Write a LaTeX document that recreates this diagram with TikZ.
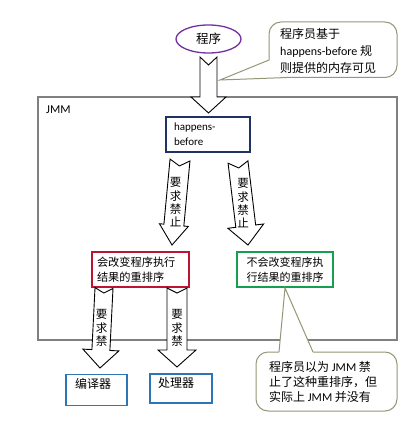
\documentclass[tikz,border=0pt]{standalone}
\usepackage{fontspec}
\setmainfont{Carlito}
\newfontfamily\cjk{Noto Sans CJK SC}
\usetikzlibrary{calc,shapes.geometric}
\definecolor{cpurple}{RGB}{112,48,160}
\definecolor{cnavy}{RGB}{31,50,100}
\definecolor{cred}{RGB}{190,20,50}
\definecolor{cgreen}{RGB}{20,160,80}
\definecolor{cblue}{RGB}{46,117,182}
\definecolor{cgray}{RGB}{128,128,128}
\definecolor{ccall}{RGB}{150,150,120}
\newcommand{\myblockarrow}[7]{%
  \coordinate (#1h) at ($(#3)!#6!(#2)$);
  \draw[blockarr] ($(#2)!#4!90:(#3)$) -- ($(#2)!#7!(#3)$) -- ($(#2)!#4!-90:(#3)$)
    -- ($(#1h)!#4!-90:(#3)$) -- ($(#1h)!#5!-90:(#3)$) -- (#3)
    -- ($(#1h)!#5!90:(#3)$) -- ($(#1h)!#4!90:(#3)$) -- cycle;
}
\tikzset{
  blockarr/.style={draw=black, line width=0.9pt, fill=white, line join=miter},
  box/.style={draw, line width=1.4pt, inner sep=0pt, fill=white},
  calloutbox/.style={draw=ccall, line width=1pt, fill=white},
  calltext/.style={anchor=north west, inner sep=0pt, align=left, font=\fontsize{12}{17}\selectfont},
  vtext/.style={inner sep=0pt, align=center, font=\cjk\fontsize{11.5}{13.3}\selectfont},
}
\begin{document}
\begin{tikzpicture}[x=1pt,y=-1pt]
\useasboundingbox[fill=white] (0,0) rectangle (413,422);

% JMM container
\draw[cgray, line width=2pt] (38,97) rectangle (397,340);
\node[anchor=west, inner sep=0pt, font=\fontsize{12}{14}\selectfont] (jmm) at (46,110) {JMM};

% program ellipse
\node[ellipse, draw=cpurple, line width=1.3pt, minimum width=65pt, minimum height=28pt, inner sep=0pt,
  font=\cjk\fontsize{12.5}{14}\selectfont] (prog) at (208.5,39) {程序};

% happens-before
\node[box, draw=cnavy, minimum width=84pt, minimum height=35pt, text width=68pt, align=left,
  font=\fontsize{11}{15}\selectfont] (hb) at (208,134.5) {happens-\\before};

% reorder boxes
\node[box, draw=cred, minimum width=97pt, minimum height=35pt, text width=87pt, align=left,
  font=\cjk\fontsize{11.2}{15}\selectfont] (chg) at (140.5,269.5) {会改变程序执行\\结果的重排序};
\node[box, draw=cgreen, minimum width=96pt, minimum height=35pt, text width=86pt, align=center,
  font=\cjk\fontsize{11}{15}\selectfont] (nochg) at (285,269.5) {不会改变程序执\\行结果的重排序};

% compiler / processor
\node[box, draw=cblue, line width=1.3pt, minimum width=61pt, text width=43pt, align=left, inner ysep=5.5pt,
  text height=8pt, text depth=12pt, font=\cjk\fontsize{12}{14}\selectfont] (comp) at (96.5,390) {编译器};
\node[box, draw=cblue, line width=1.3pt, minimum width=62pt, text width=46pt, align=left, inner ysep=5pt,
  text height=8pt, text depth=11pt, font=\cjk\fontsize{12}{14}\selectfont] (proc) at (181,388.5) {处理器};

% arrow end points
\coordinate (a0s) at (208.5,57);
\coordinate (a0e) at (208.5,113);
\coordinate (a1s) at (180,160);
\coordinate (a1e) at (172,245);
\coordinate (a2s) at (238,162);
\coordinate (a2e) at (248,245);
\coordinate (a3s) at (104,288);
\coordinate (a3e) at (100,368);
\coordinate (a4s) at (177,288);
\coordinate (a4e) at (177,367);

\myblockarrow{a0}{a0s}{a0e}{8.5pt}{17.5pt}{16pt}{8pt}
\myblockarrow{a1}{a1s}{a1e}{10pt}{14.5pt}{20pt}{6pt}
\myblockarrow{a2}{a2s}{a2e}{10pt}{18pt}{19pt}{6pt}
\myblockarrow{a3}{a3s}{a3e}{9pt}{18pt}{18pt}{5pt}
\myblockarrow{a4}{a4s}{a4e}{10pt}{19pt}{17pt}{5pt}

\node[vtext] (v1) at (175.5,202.5) {要\\求\\禁\\止};
\node[vtext] (v2) at (243,203.5) {要\\求\\禁\\止};
\node[vtext] (v3) at (101.5,328) {要\\求\\禁};
\node[vtext] (v4) at (177,328) {要\\求\\禁};

% top callout
\draw[calloutbox, rounded corners=12pt] (269,22) rectangle (397,77.5);
\fill[white] (220,80) -- (269,60) -- (287,78.2) -- cycle;
\draw[ccall, line width=1pt] (269,60) -- (220,80) -- (287,77.5);
\node[calltext] (t1) at (280,28) {{\cjk 程序员基于}\\happens-before {\cjk 规}\\{\cjk 则提供的内存可见}};

% bottom callout
\draw[calloutbox, rounded corners=12pt] (256,352) rectangle (397,411);
\fill[white] (279,352.8) -- (285,288) -- (313,352.8) -- cycle;
\draw[ccall, line width=1pt] (279,352) -- (285,288) -- (313,352);
\node[calltext, font=\fontsize{12}{15}\selectfont] (t2) at (269,361.5) {{\cjk 程序员以为} JMM {\cjk 禁}\\{\cjk 止了这种重排序，但}\\{\cjk 实际上} JMM {\cjk 并没有}};
\end{tikzpicture}
\end{document}
